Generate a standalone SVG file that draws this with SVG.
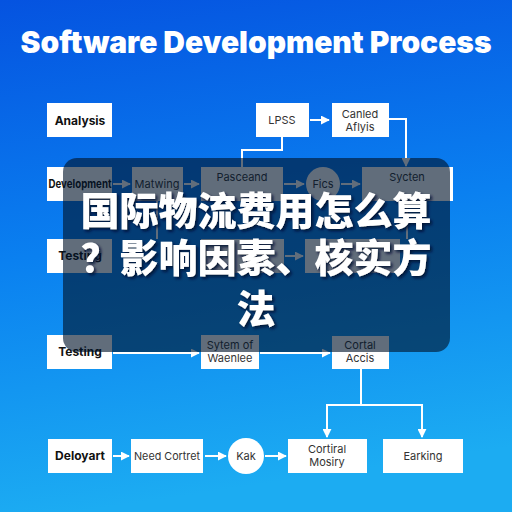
<svg xmlns="http://www.w3.org/2000/svg" width="512" height="512" viewBox="0 0 512 512">
<defs>
<linearGradient id="bg" x1="0" y1="0" x2="0.15" y2="1">
<stop offset="0" stop-color="#0553e0"/>
<stop offset="0.5" stop-color="#0a80f0"/>
<stop offset="1" stop-color="#1cacf2"/>
</linearGradient>
<marker id="ah" viewBox="0 0 10 10" refX="9" refY="5" markerWidth="9" markerHeight="9" markerUnits="userSpaceOnUse" orient="auto">
<path d="M0,0 L10,5 L0,10 z" fill="#ffffff"/>
</marker>
<filter id="sh" x="-10%" y="-20%" width="120%" height="140%">
<feDropShadow dx="2" dy="2" stdDeviation="1.5" flood-color="#001030" flood-opacity="0.9"/>
</filter>
<style>
.box{fill:#ffffff;}
.lbl{font-family:Inter,"Liberation Sans",Arial,sans-serif;font-size:11px;fill:#333333;text-anchor:middle;}
.blbl{font-family:Inter,"Liberation Sans",Arial,sans-serif;font-size:12px;font-weight:700;fill:#111111;text-anchor:middle;}
.con{fill:none;stroke:#ffffff;stroke-width:2;}
.arr{fill:none;stroke:#ffffff;stroke-width:2;marker-end:url(#ah);}
.title{font-family:Inter,"Liberation Sans",Arial,sans-serif;font-size:30px;font-weight:900;fill:#ffffff;text-anchor:middle;}
.cjk{font-family:"Noto Sans CJK SC","Noto Sans CJK JP",sans-serif;font-size:39px;font-weight:900;fill:#ffffff;text-anchor:middle;}
</style>
</defs>
<rect x="0" y="0" width="512" height="512" fill="url(#bg)"/>
<text class="title" x="256" y="53" textLength="471" lengthAdjust="spacingAndGlyphs">Software Development Process</text>

<g id="connectors">
<path class="arr" d="M310,120 H329"/>
<path class="con" d="M282,137 V150 H242 V167"/>
<path class="arr" d="M389,119 H406 V166"/>
<path class="arr" d="M113,184 H130"/>
<path class="arr" d="M184,184 H199"/>
<path class="arr" d="M284,184 H304"/>
<path class="arr" d="M341,184 H360"/>
<path class="con" d="M157,200 V239"/>
<path class="con" d="M407,200 V239"/>
<path class="arr" d="M285,256 H303"/>
<path class="arr" d="M113,353 H199"/>
<path class="arr" d="M260,353 H330"/>
<path class="con" d="M361,369 V405"/>
<path class="con" d="M326,405 H423"/>
<path class="arr" d="M327,405 V437"/>
<path class="arr" d="M422,405 V437"/>
<path class="arr" d="M113,456 H129"/>
<path class="arr" d="M205,456 H226"/>
<path class="arr" d="M265,456 H286"/>
</g>

<g id="analysis"><rect class="box" x="47" y="103" width="65" height="34"/><text class="blbl" x="80" y="125">Analysis</text></g>
<g id="lpss"><rect class="box" x="256" y="103" width="53" height="34"/><text class="lbl" x="282" y="124">LPSS</text></g>
<g id="canled"><rect class="box" x="332" y="103" width="57" height="34"/><text class="lbl" x="360" y="118">Canled</text><text class="lbl" x="360" y="131">Aflyis</text></g>

<g id="development"><rect class="box" x="47" y="167" width="65" height="34"/><text class="blbl" x="80" y="188" font-size="11" textLength="63" lengthAdjust="spacingAndGlyphs">Development</text></g>
<g id="matwing"><rect class="box" x="132" y="167" width="51" height="34"/><text class="lbl" x="157" y="188">Matwing</text></g>
<g id="pasceand"><rect class="box" x="201" y="167" width="82" height="34"/><text class="lbl" x="242" y="181">Pasceand</text></g>
<g id="fics"><circle class="box" cx="323" cy="184" r="17"/><text class="lbl" x="323" y="188">Fics</text></g>
<g id="sycten"><rect class="box" x="362" y="167" width="91" height="34"/><text class="lbl" x="407" y="181">Sycten</text></g>

<g id="testing1"><rect class="box" x="47" y="239" width="65" height="34"/><text class="blbl" x="80" y="260">Testing</text></g>
<g id="row3a"><rect class="box" x="201" y="239" width="83" height="34"/></g>
<g id="row3b"><rect class="box" x="305" y="239" width="95" height="34"/></g>

<g id="testing2"><rect class="box" x="47" y="335" width="65" height="34"/><text class="blbl" x="80" y="356">Testing</text></g>
<g id="sytem"><rect class="box" x="201" y="335" width="58" height="34"/><text class="lbl" x="230" y="349">Sytem of</text><text class="lbl" x="230" y="362">Waenlee</text></g>
<g id="cortal"><rect class="box" x="332" y="336" width="57" height="33"/><text class="lbl" x="360" y="349">Cortal</text><text class="lbl" x="360" y="362">Accis</text></g>

<g id="deloyart"><rect class="box" x="48" y="439" width="64" height="34"/><text class="blbl" x="80" y="460">Deloyart</text></g>
<g id="need"><rect class="box" x="131" y="439" width="72" height="34"/><text class="lbl" x="167" y="460" textLength="66" lengthAdjust="spacingAndGlyphs">Need Cortret</text></g>
<g id="kak"><circle class="box" cx="246" cy="456" r="18"/><text class="lbl" x="246" y="460">Kak</text></g>
<g id="cortiral"><rect class="box" x="288" y="439" width="79" height="34"/><text class="lbl" x="327" y="453">Cortiral</text><text class="lbl" x="327" y="466">Mosiry</text></g>
<g id="earking"><rect class="box" x="383" y="439" width="80" height="34"/><text class="lbl" x="423" y="460">Earking</text></g>

<g id="overlay">
<rect x="63" y="158" width="387" height="194" rx="14" fill="#00132a" fill-opacity="0.62"/>
<g filter="url(#sh)">
<text class="cjk" x="256" y="225">国际物流费用怎么算</text>
<text class="cjk" x="256" y="272">？影响因素、核实方</text>
<text class="cjk" x="256" y="323">法</text>
</g>
</g>
</svg>
